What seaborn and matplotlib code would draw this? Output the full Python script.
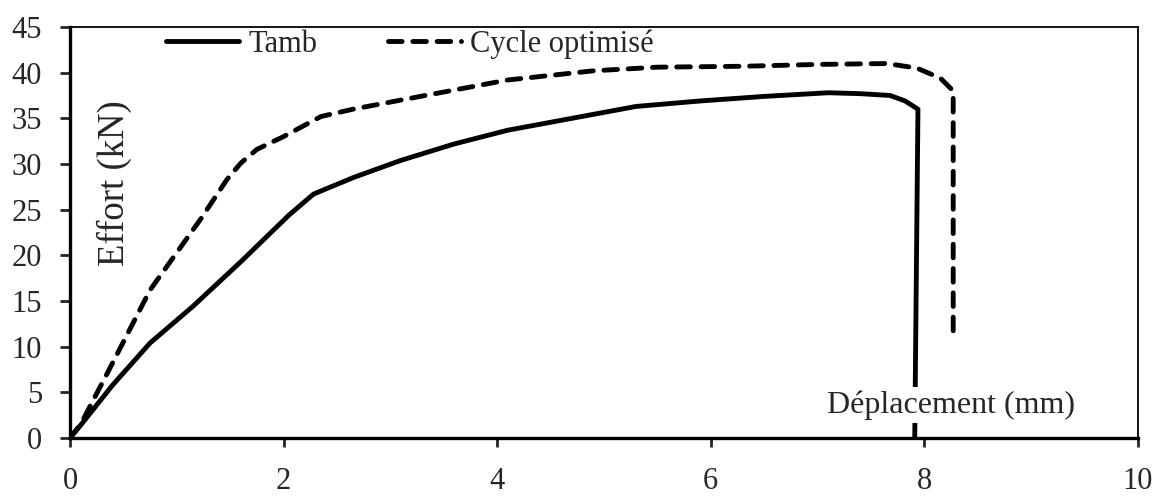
import pandas as pd
import matplotlib.pyplot as plt
import seaborn as sns

# Courbes effort / déplacement
tamb_x = [0, 0.1, 0.4, 0.75, 1.15, 1.6, 2.05, 2.28, 2.65, 3.1, 3.6, 4.1, 4.7, 5.3,
          5.9, 6.5, 7.1, 7.4, 7.68, 7.82, 7.94, 7.91]
tamb_y = [0, 1.4, 5.8, 10.4, 14.4, 19.3, 24.4, 26.7, 28.5, 30.4, 32.2, 33.7, 35.0, 36.3,
          36.9, 37.4, 37.8, 37.7, 37.5, 36.9, 36.0, 0]

cycle_x = [0, 0.1, 0.35, 0.75, 1.22, 1.47, 1.6, 1.75, 2.0, 2.35, 2.65, 3.1, 3.6, 4.1,
           4.9, 5.5, 6.3, 7.0, 7.65, 7.93, 8.15, 8.27, 8.27]
cycle_y = [0, 1.5, 7.1, 16.2, 23.9, 28.3, 30.1, 31.6, 33.0, 35.2, 36.0, 37.0, 38.1, 39.2,
           40.2, 40.6, 40.7, 40.9, 41.0, 40.5, 39.4, 38.0, 11.6]

x_ticks = [0, 2, 4, 6, 8, 10]
y_ticks = [0, 5, 10, 15, 20, 25, 30, 35, 40, 45]

df_tamb = pd.DataFrame({"x": tamb_x, "y": tamb_y})
df_cycle = pd.DataFrame({"x": cycle_x, "y": cycle_y})

sns.set_style("white")
plt.rcParams['font.family'] = ['Liberation Serif', 'DejaVu Serif']
plt.rcParams['font.size'] = 22

fig = plt.figure(figsize=(11.58, 4.97), dpi=100)
ax = fig.add_axes([0.0604, 0.1187, 0.9223, 0.827])

sns.lineplot(data=df_tamb, x="x", y="y", sort=False, estimator=None, ax=ax,
             color='black', linewidth=3.5, label='Tamb')
sns.lineplot(data=df_cycle, x="x", y="y", sort=False, estimator=None, ax=ax,
             color='black', linewidth=3.5, linestyle=(0, (2.8, 2.2)),
             dash_capstyle='round', label='Cycle optimisé')

ax.set_xlim(0, 10)
ax.set_ylim(0, 45)
ax.set_xticks(x_ticks)
ax.set_yticks(y_ticks)
ax.set_xlabel("")
ax.set_ylabel("")

# spines: axes gauche/bas épais, cadre fin
for side in ['left', 'bottom']:
    ax.spines[side].set_linewidth(2.4)
    ax.spines[side].set_color('black')
for side in ['top', 'right']:
    ax.spines[side].set_linewidth(1.3)
    ax.spines[side].set_color('black')

ax.tick_params(axis='y', direction='out', length=7, width=2, pad=13,
               left=True, labelsize=22)
ax.tick_params(axis='x', direction='out', length=6.5, width=2, pad=14.5,
               bottom=True, labelsize=22)

# titres d'axes placés à l'intérieur
ax.text(0.042, 0.62, "Effort (kN)", rotation=90, transform=ax.transAxes,
        ha='center', va='center', fontsize=26.5)
ax.text(0.825, 0.08, "Déplacement (mm)", transform=ax.transAxes,
        ha='center', va='center', fontsize=23,
        bbox=dict(facecolor='white', edgecolor='none', pad=2))

ax.legend(loc='upper left', bbox_to_anchor=(0.09, 0.995), ncol=2, frameon=False,
          handlelength=2.4, handletextpad=0.3, columnspacing=2.3,
          borderaxespad=0, borderpad=0, fontsize=22)

plt.savefig("out.png", dpi=100)
